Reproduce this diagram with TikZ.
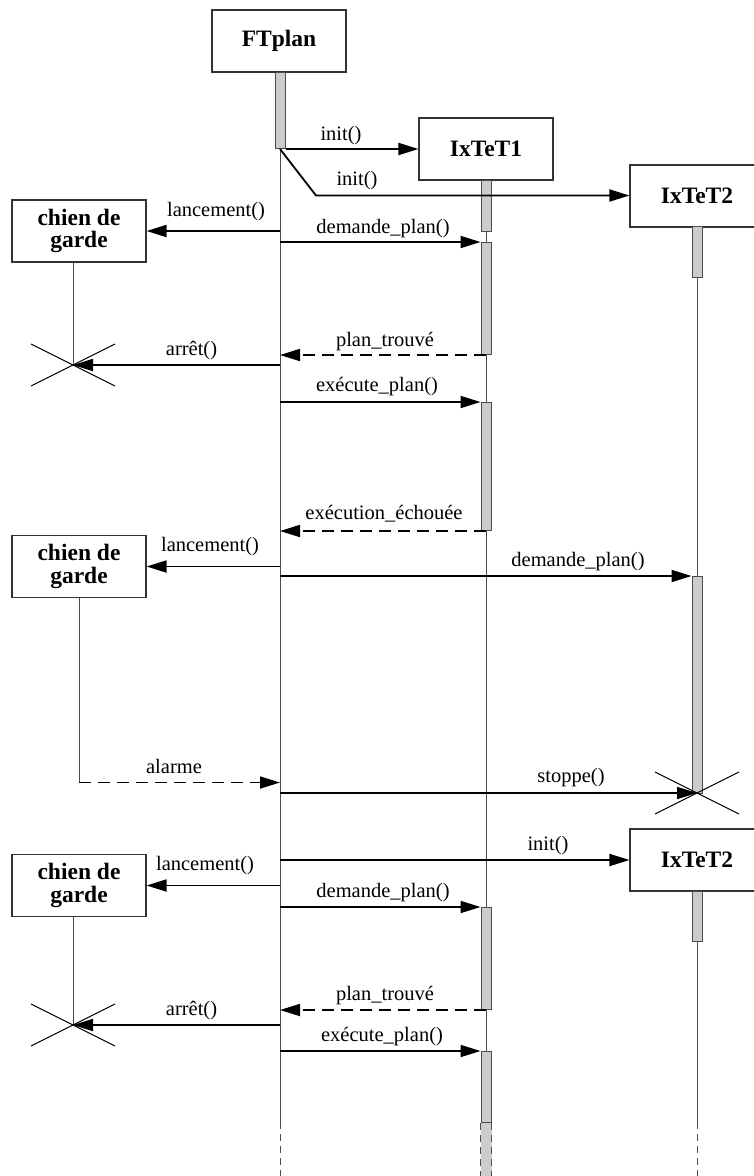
\documentclass[tikz,border=0pt]{standalone}
\usepackage{fontspec}
\setmainfont{Liberation Serif}
\usetikzlibrary{arrows.meta}
\tikzset{
 obj/.style={draw=black!80, line width=1.1pt, minimum width=134pt, minimum height=62pt,
   font=\fontsize{23.5}{22.5}\selectfont\bfseries, align=center, inner sep=0pt},
 actbar/.style={draw=black!70, fill=black!20, line width=1pt, minimum width=10pt, inner sep=0pt, anchor=north},
 life/.style={draw=black!70, line width=1pt},
 tail/.style={draw=black!70, line width=1pt, dash pattern=on 7pt off 5pt},
 msg/.style={line width=1.8pt, -{Triangle[length=20pt,width=12pt]}},
 ret/.style={msg, dash pattern=on 12pt off 7pt},
 lbl/.style={font=\fontsize{20.5}{24}\selectfont, anchor=base, inner sep=0pt},
 xmark/.style={line width=1pt},
}
\begin{document}
\begin{tikzpicture}[x=1pt,y=-1pt]
\useasboundingbox (0,0) rectangle (754,1176);
% objects
\node[obj] (ft) at (279,41) {FTplan};
\node[obj] (i1) at (486,149) {IxTeT1};
\node[obj] (i2a) at (697,196) {IxTeT2};
\node[obj] (c1) at (79,231) {chien de\\garde};
\node[obj] (c2) at (79,566.5) {chien de\\garde};
\node[obj] (i2b) at (697,860) {IxTeT2};
\node[obj] (c3) at (79,885.5) {chien de\\garde};
% key coordinates
\coordinate (x1) at (73,365);
\coordinate (x2) at (697,793);
\coordinate (x3) at (73,1025);
\coordinate (al) at (79,782.5);
\coordinate (k1) at (316,195.5);
\coordinate (ftend) at (280,1122);
\coordinate (i1end) at (486,1122);
\coordinate (i2end) at (697,1122);
% lifelines
\draw[life] (280,72) -- (ftend);
\draw[tail] (ftend) -- ++(0,60);
\draw[life] (i1.south) -- (i1end);
\draw[life] (697,226) -- (x2);
\draw[life] (i2b.south) -- (i2end);
\draw[tail] (i2end) -- ++(0,60);
\draw[life] (x1 |- c1.south) -- (x1);
\draw[life] (c2.south) -- (al);
\draw[life] (x3 |- c3.south) -- (x3);
% activation bars
\node[actbar, minimum height=76pt] (ftbar) at (280,72) {};
\node[actbar, minimum height=51pt] (b1) at (486,180) {};
\node[actbar, minimum height=112pt] (b2) at (486,242) {};
\node[actbar, minimum height=128pt] (b3) at (486,402) {};
\node[actbar, minimum height=102pt] (b4) at (486,907) {};
\node[actbar, minimum height=71pt] (b5) at (486,1051) {};
\node[actbar, minimum height=51pt] (a1) at (697,226) {};
\node[actbar, minimum height=217pt] (d2) at (697,576) {};
\node[actbar, minimum height=50pt] (a3) at (697,891) {};
\fill[black!20] (b5.south west) rectangle ([yshift=-60pt]b5.south east);
\draw[tail] (b5.south west) -- ++(0,60);
\draw[tail] (b5.south east) -- ++(0,60);
% destruction marks
\foreach \p in {x1,x2,x3}{
  \draw[xmark] ([shift={(-42,-21)}]\p) -- ([shift={(42,21)}]\p);
  \draw[xmark] ([shift={(42,-21)}]\p) -- ([shift={(-42,21)}]\p);
}
% messages
\draw[msg] (ftbar.south east) -- (i1.west |- ftbar.south);
\draw[msg] (ftbar.south) -- (k1) -- (i2a.west |- k1);
\draw[msg] (ftbar |- c1.east) -- (c1.east);
\draw[msg] (ftbar |- b2.north) -- (b2.north west);
\draw[ret] (b2.south) -- (ftbar |- b2.south);
\draw[msg] (ftbar |- x1) -- (x1);
\draw[msg] (ftbar |- b3.north) -- (b3.north west);
\draw[ret] (b3.south) -- (ftbar |- b3.south);
\draw[msg] (ftbar |- c2.east) -- (c2.east);
\draw[msg] (ftbar |- d2.north) -- (d2.north west);
\draw[ret] (al) -- (ftbar |- al);
\draw[msg] (ftbar |- x2) -- (x2);
\draw[msg] (ftbar |- i2b.west) -- (i2b.west);
\draw[msg] (ftbar |- c3.east) -- (c3.east);
\draw[msg] (ftbar |- b4.north) -- (b4.north west);
\draw[ret] (b4.south) -- (ftbar |- b4.south);
\draw[msg] (ftbar |- x3) -- (x3);
\draw[msg] (ftbar |- b5.north) -- (b5.north west);
% labels
\node[lbl] (l1) at (341,140) {init()};
\node[lbl] (l2) at (357,185) {init()};
\node[lbl] (l3) at (216,216) {lancement()};
\node[lbl] (l4) at (383,233) {demande\_plan()};
\node[lbl] (l5) at (385,346.5) {plan\_trouvé};
\node[lbl] (l6) at (191.5,355.5) {arrêt()};
\node[lbl] (l7) at (377,391.5) {exécute\_plan()};
\node[lbl] (l8) at (384,519.5) {exécution\_échouée};
\node[lbl] (l9) at (210,551.5) {lancement()};
\node[lbl] (l10) at (578,566.5) {demande\_plan()};
\node[lbl] (l11) at (174,773.5) {alarme};
\node[lbl] (l12) at (571,782.5) {stoppe()};
\node[lbl] (l13) at (548,850) {init()};
\node[lbl] (l14) at (205,870.5) {lancement()};
\node[lbl] (l15) at (383,897.5) {demande\_plan()};
\node[lbl] (l16) at (385,1000.5) {plan\_trouvé};
\node[lbl] (l17) at (191.5,1015) {arrêt()};
\node[lbl] (l18) at (382,1041.5) {exécute\_plan()};
\end{tikzpicture}
\end{document}
